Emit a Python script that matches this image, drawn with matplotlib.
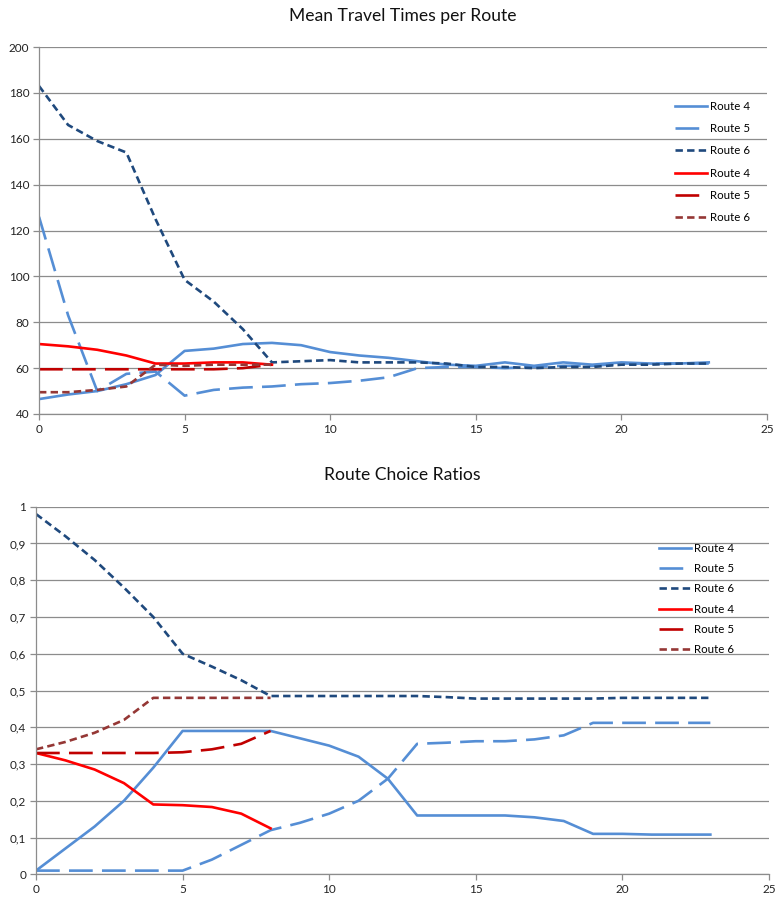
import matplotlib
matplotlib.use("Agg")
import matplotlib.pyplot as plt
from matplotlib.ticker import FuncFormatter, MultipleLocator

plt.rcParams['font.family'] = ['Lato', 'DejaVu Sans']

# ---- data: Mean Travel Times per Route ----
x_long = list(range(24))
x_short = list(range(9))
tt_a_r4 = [46.5, 48.5, 50, 53, 57, 67.5, 68.5, 70.5, 71, 70, 67, 65.5, 64.5, 63, 61.5, 61, 62.5, 61, 62.5, 61.5, 62.5, 62, 62, 62.5]
tt_a_r5 = [126, 83, 50, 57.5, 58.5, 48, 50.5, 51.5, 52, 53, 53.5, 54.5, 56, 60, 60.5, 60.5, 60, 60.5, 61, 61, 62, 62, 62, 62]
tt_a_r6 = [183, 166, 159, 154, 125, 98.5, 89, 77, 62.5, 63, 63.5, 62.5, 62.5, 62.5, 62, 60.5, 60.5, 60, 60.5, 60.5, 61.5, 61.5, 62, 62]
tt_b_r4 = [70.5, 69.5, 68, 65.5, 62, 62, 62.5, 62.5, 61.5]
tt_b_r5 = [59.5, 59.5, 59.5, 59.5, 59.5, 59.5, 59.5, 60, 61.5]
tt_b_r6 = [49.5, 49.5, 50.5, 52, 61.5, 61, 61.5, 61.5, 61.5]

# ---- data: Route Choice Ratios ----
rc_a_r4 = [0.01, 0.07, 0.13, 0.2, 0.29, 0.39, 0.39, 0.39, 0.39, 0.37, 0.35, 0.32, 0.26, 0.16, 0.16, 0.16, 0.16, 0.155, 0.145, 0.11, 0.11, 0.108, 0.108, 0.108]
rc_a_r5 = [0.01, 0.01, 0.01, 0.01, 0.01, 0.01, 0.04, 0.08, 0.12, 0.14, 0.165, 0.2, 0.26, 0.355, 0.358, 0.362, 0.362, 0.367, 0.378, 0.412, 0.412, 0.412, 0.412, 0.412]
rc_a_r6 = [0.98, 0.92, 0.855, 0.78, 0.70, 0.60, 0.565, 0.528, 0.485, 0.485, 0.485, 0.485, 0.485, 0.485, 0.482, 0.478, 0.478, 0.478, 0.478, 0.478, 0.48, 0.48, 0.48, 0.48]
rc_b_r4 = [0.33, 0.31, 0.285, 0.248, 0.19, 0.188, 0.183, 0.165, 0.125]
rc_b_r5 = [0.33, 0.33, 0.33, 0.33, 0.33, 0.332, 0.34, 0.355, 0.39]
rc_b_r6 = [0.34, 0.36, 0.385, 0.42, 0.48, 0.48, 0.48, 0.48, 0.48]

labels = ["Route 4", "Route 5", "Route 6", "Route 4", "Route 5", "Route 6"]

C_LB = "#558ED5"
C_DB = "#1F497D"
C_R = "#FF0000"
C_DR = "#C00000"
C_BR = "#953735"
GRID = "#8C8C8C"
LW = 1.9
LONG = (9, 3.5)
SHORT = (2.8, 1.6)

fig = plt.figure(figsize=(7.75, 9.0), dpi=100)
ax1 = fig.add_axes([39/775, 1-414/900, (767-39)/775, (414-47)/900])
ax2 = fig.add_axes([36/775, 1-874.3/900, (769-36)/775, (874.3-506.7)/900])


def draw(ax, a4, a5, a6, b4, b5, b6):
    ax.plot(x_long, a4, color=C_LB, lw=LW, label=labels[0])
    ax.plot(x_long, a5, color=C_LB, lw=LW, dashes=LONG, label=labels[1])
    ax.plot(x_long, a6, color=C_DB, lw=LW, dashes=SHORT, label=labels[2])
    ax.plot(x_short, b4, color=C_R, lw=LW, label=labels[3])
    ax.plot(x_short, b5, color=C_DR, lw=LW, dashes=LONG, label=labels[4])
    ax.plot(x_short, b6, color=C_BR, lw=LW, dashes=SHORT, label=labels[5])


def style(ax, ymin, ymax, ystep, fmt):
    ax.set_xlim(0, 25)
    ax.set_ylim(ymin, ymax)
    ax.xaxis.set_major_locator(MultipleLocator(5))
    ax.yaxis.set_major_locator(MultipleLocator(ystep))
    ax.yaxis.set_major_formatter(FuncFormatter(fmt))
    ax.grid(axis='y', color=GRID, lw=0.9)
    ax.set_axisbelow(True)
    for s in ['top', 'right']:
        ax.spines[s].set_visible(False)
    for s in ['left', 'bottom']:
        ax.spines[s].set_color(GRID)
        ax.spines[s].set_linewidth(0.9)
    ax.tick_params(axis='both', colors=GRID, labelcolor='#222222', labelsize=8.5,
                   length=4, width=0.9, direction='out')
    ax.tick_params(axis='y', pad=3)
    ax.tick_params(axis='x', pad=3)


draw(ax1, tt_a_r4, tt_a_r5, tt_a_r6, tt_b_r4, tt_b_r5, tt_b_r6)
style(ax1, 40, 200, 20, lambda v, p: f"{v:.0f}")
ax1.set_title("Mean Travel Times per Route", fontsize=12.6, pad=19, color='#111111')
ax1.legend(loc='upper left', bbox_to_anchor=(675/775, 1-101/900), bbox_transform=fig.transFigure,
           frameon=False, fontsize=8.3, handlelength=2.8, handletextpad=0.2, labelspacing=0.97,
           borderaxespad=0, borderpad=0)

draw(ax2, rc_a_r4, rc_a_r5, rc_a_r6, rc_b_r4, rc_b_r5, rc_b_r6)


def fmt2(v, p):
    s = f"{v:.1f}".replace('.', ',')
    if s.endswith(',0'):
        s = s[:-2]
    return s


style(ax2, 0, 1, 0.1, fmt2)
ax2.set_title("Route Choice Ratios", fontsize=12.6, pad=19, color='#111111')
ax2.legend(loc='upper left', bbox_to_anchor=(659/775, 1-543/900), bbox_transform=fig.transFigure,
           frameon=False, fontsize=8.3, handlelength=2.8, handletextpad=0.2, labelspacing=0.8,
           borderaxespad=0, borderpad=0)

fig.savefig("out.png", dpi=100)
